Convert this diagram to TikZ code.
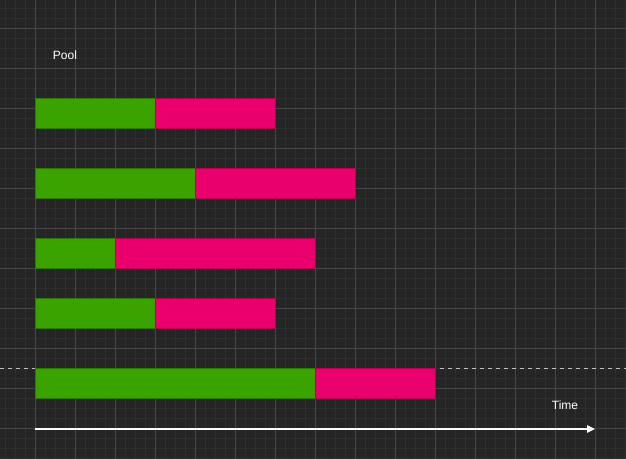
\documentclass[tikz,border=0pt]{standalone}
\usepackage{fontspec}
\setmainfont{Liberation Sans}
\usepackage{xcolor}
\usetikzlibrary{arrows.meta,positioning}
\definecolor{bgdark}{HTML}{252525}
\definecolor{gridminor}{HTML}{2F2F2F}
\definecolor{gridmajor}{HTML}{474747}
\definecolor{waitgreen}{HTML}{3BA300}
\definecolor{waitgreenline}{HTML}{2A7A00}
\definecolor{runpink}{HTML}{EA006C}
\definecolor{runpinkline}{HTML}{B8004F}

\begin{document}
\begin{tikzpicture}[x=0.75pt,y=-0.75pt]
    \tikzset{wait/.style={draw=waitgreenline,fill=waitgreen,line width=0.75pt,
        minimum height=22.5pt,inner sep=0pt,outer sep=0pt,anchor=north west}}
    \tikzset{run/.style={draw=runpinkline,fill=runpink,line width=0.75pt,
        minimum height=22.5pt,inner sep=0pt,outer sep=0pt,anchor=north west}}
    \tikzset{label/.style={text=white,font=\fontsize{9}{11}\selectfont}}
    % background and grid
    \fill[bgdark] (0,0) rectangle (626,459);
    \useasboundingbox (0,0) rectangle (626,459);
    \foreach \x in {5,15,...,625} \draw[gridminor,line width=0.75pt] (\x,0) -- (\x,459);
    \foreach \y in {9,19,...,459} \draw[gridminor,line width=0.75pt] (0,\y) -- (626,\y);
    \foreach \x in {35,75,...,625} \draw[gridmajor,line width=0.75pt] (\x,0) -- (\x,459);
    \foreach \y in {29,69,...,459} \draw[gridmajor,line width=0.75pt] (0,\y) -- (626,\y);
    % dashed marker
    \coordinate (d0) at (0,369);
    \coordinate (d1) at (626,369);
    \draw[white!75!black,dash pattern=on 3pt off 3pt,line width=0.75pt] (d0) -- (d1);
    % bars
    \node[wait,minimum width=90pt] (g1) at (35,99) {};
    \node[run,minimum width=90pt] (p1) at (g1.north east) {};
    \node[wait,minimum width=120pt] (g2) at (35,169) {};
    \node[run,minimum width=120pt] (p2) at (g2.north east) {};
    \node[wait,minimum width=60pt] (g3) at (35,239) {};
    \node[run,minimum width=150pt] (p3) at (g3.north east) {};
    \node[wait,minimum width=90pt] (g4) at (35,299) {};
    \node[run,minimum width=90pt] (p4) at (g4.north east) {};
    \node[wait,minimum width=210pt] (g5) at (35,369) {};
    \node[run,minimum width=90pt] (p5) at (g5.north east) {};
    % labels
    \node[label] (pool) at (65,55) {Pool};
    \node[label] (time) at (565,405) {Time};
    % time axis
    \coordinate (t0) at (35,429);
    \coordinate (t1) at (595,429);
    \draw[white,line width=1.1pt,-{Triangle[length=6pt,width=5.5pt]}] (t0) -- (t1);
\end{tikzpicture}
\end{document}
